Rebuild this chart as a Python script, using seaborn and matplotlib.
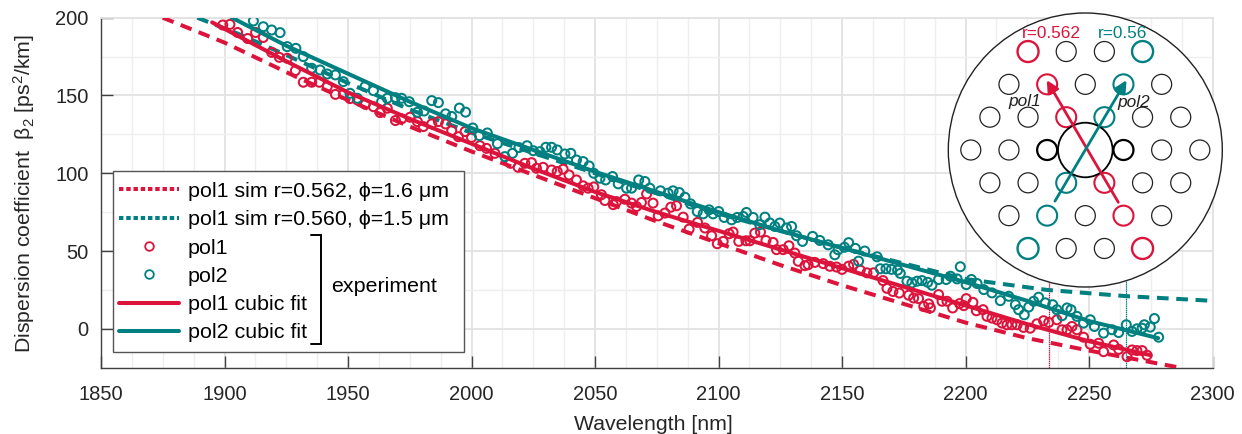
import matplotlib
matplotlib.use("Agg")
import matplotlib.pyplot as plt
from matplotlib.lines import Line2D
from matplotlib.patches import Circle, Rectangle
import seaborn as sns

RED = "#DC143C"
TEAL = "#008080"

# --- data ---
pol1_x = [1899.3,1902.2,1905.3,1909.4,1912.6,1915.7,1919.1,1922.2,1925.4,1928.7,1931.9,1935.3,1938.4,1941.6,1944.9,1948.1,1950.8,1953.8,1957,1960.3,1963,1965.9,1969.2,1971.7,1975.1,1978.1,1980.5,1983.9,1986.6,1989.5,1992,1994.7,1997.4,2000,2003.4,2006.1,2009.5,
2015.8,2018.9,2021.6,2024.3,2026.3,2029,2032.4,2034.7,2037.1,2039.5,2042.5,2045.2,2047.2,2049.5,2052.6,2054,2057.4,2058.7,2062.1,2064.8,2066.8,2068.8,2070.9,2073.5,2075.6,2078.3,2080.7,2083,2085.7,2088.1,2091.5,2094.5,2097.2,2099.5,2101.9,2104.3,2105.9,2108.2,2111.1,2112.7,2114.7,2117,2119.2,2122.1,2123.5,2126.2,2128.5,2130.9,2132.3,2135,2136.3,2139,2142.4,2145.1,2147.8,
2150,2152.7,2154.7,2157.4,2160.1,2162.8,2166.6,2168.2,2170.6,2173.2,2177,2179,2181,2183.1,2185.1,2185.8,2189.1,2190.5,2192.5,2194.8,2197.6,2199.3,2200.3,2203,2204.4,2207.1,2208.7,2210.7,2212.8,2214.8,2216.8,2218.8,2220.9,2223.5,2226.2,2228.9,2231.6,2233.7,2237,2239.1,2241.1,2243.1,2245.1,2247.8,2250.5,2253.9,2255.9,2260,2262,2265.4,2267.4,2269.4,2271.5,2273.5]
pol1_y = [195.3,195.7,190.5,186.6,190.5,187.3,177.7,174.5,173.9,166,158.5,158.5,158.5,155.7,150.7,150.7,148,147.1,144.3,142.8,139,141.8,133.9,135,136,133.2,130,131.7,133.2,131.7,127.4,123.5,126.8,123,117.7,116,112.8,
106.4,103.8,106.4,106.8,103.2,103.8,102.1,101.1,102.6,98.9,95.7,91.9,90.4,91.2,86.2,82.5,79.8,81.8,83.3,80.8,78.6,81.2,86.7,80.8,72.6,74.4,78.2,79.1,71.8,64.1,68.4,64.8,59.8,54.7,56.2,61.1,62.2,56.2,56.6,56.6,61.5,62.2,56.8,55.5,50.9,50.9,53.4,48.7,43.4,40.6,41.2,42.7,41.9,40.2,39.7,
38.2,40.3,41.4,37.7,36,36,31,26,24,23,21.6,19.8,19.4,14.4,16,13.4,22,17.7,17.7,13.4,16.2,14.9,19.4,17,11.6,12.3,8,6.9,5.8,3.7,2.6,2.6,2.6,0.9,0.4,3.2,5.2,4.1,5.8,-0.6,-0.6,1.5,-0.6,-5.4,-9.9,-9.3,-14.7,-10.4,-13.2,-17.9,-13.6,-14,-14,-17]

pol2_x = [1911.7,1915.7,1919.1,1922.5,1925.4,1928.9,1931.9,1935.3,1938.7,1941.6,1944.9,1948.1,1950.8,1953.8,1956.9,1960.3,1963.6,1965.9,1969.2,1971.7,1974.8,1978.1,1980.8,1983.9,1986.6,1989.5,1992,1995.1,1997.6,2000.5,2003.2,2006.4,2010.5,
2013.5,2016.6,2019.2,2022.5,2025,2027.7,2030.1,2032.4,2034.7,2037.8,2040.2,2042.5,2045.2,2047.6,2049.5,2052,2054.3,2057.1,2059.4,2062.8,2064.8,2067.7,2070.2,2072.2,2076.5,2079.6,2081.6,2084.1,2086.4,2088.7,2091.4,2093.8,2096.2,2097.8,2100.1,2102.3,2105.3,2107.6,2110,2111.3,2114,2116.7,2118.8,2120.8,2122.8,2124.8,2127.5,2129.6,2131.6,2134,2138.1,2141,2144.4,2147.1,2148.4,
2151,2152.7,2155.4,2156.7,2159.2,2164.2,2165.5,2167.8,2170,2172.5,2173.6,2176.3,2178.3,2180.4,2182.4,2184.7,2186.4,2189.1,2192.2,2193.9,2196.6,2197.9,2200.3,2202.4,2204.7,2207.4,2210.7,2214.1,2217.5,2220.2,2221.5,2223.8,2225.6,2227.6,2229.6,2232.3,2235.3,2237,2239.1,2241.1,2242.7,2245.1,2247.8,2250.5,2252.2,2255.9,2259.3,2262,2265.1,2267.4,2269.4,2271.5,2272.4,2274.8,2276.5,2278.2]
pol2_y = [197.9,194.2,192.1,190.4,181.4,180.3,175,167.5,166.4,163.8,163.2,158.9,151.4,148.2,155.7,153.1,146,148.2,148.6,148.2,146,139.2,140,146.7,145.4,138.2,136.5,141.9,139.3,129.1,124.2,125.9,119,
110.7,112.8,116.5,117.7,114.5,113.9,116.7,116.7,115,112.4,112.8,108.5,107.5,104.7,100,96.8,95.7,97.9,93.2,90.4,90.4,95.7,94.7,90.4,88.7,87.2,88.7,87.6,84.6,80.3,75.4,73.9,76.5,73.9,75.4,71.6,70.1,71.6,72.2,74.8,71.6,66.9,71.8,68,65.8,68,64.8,65.8,59.8,56.2,59.4,56.8,54,47.6,50.8,
52.4,55.4,51.7,43.5,50,46.3,38.6,38.6,38.2,37.7,35.6,30.6,29.5,30.6,31,29.9,28,31.7,31.7,33.8,32.1,39.9,28.4,31.7,29.1,25.2,23.1,18.1,20.9,15.5,12.3,9,14,17.7,20.3,16.7,15.5,12.3,8.4,13.4,12.3,8,3.7,5.8,1.5,-2.8,-0.6,-2.4,2.6,-1.7,0,0.4,2.6,1.1,6.6,-5.4]

fit1_x = [1895,1925,1950,1975,2000,2025,2050,2075,2100,2125,2150,2175,2200,2225,2250,2275]
fit1_y = [197,172,152,135,119,103,88,75,63,51,39,27,15,3,-8,-17]
fit2_x = [1903,1925,1950,1975,2000,2025,2050,2075,2100,2125,2150,2175,2200,2225,2250,2278]
fit2_y = [200,182,164,146,129,115,101,88,75,63,52,41,30,18,5,-6]
sim1_x = [1875,1900,1929,1950,1975,2000,2025,2050,2075,2100,2125,2150,2175,2200,2225,2250,2287]
sim1_y = [200,184,162,147,130,114,99,84,69,55,41,28,16,4,-6,-14,-25]
sim2_x = [1889,1905,1925,1950,1975,2000,2025,2050,2075,2100,2125,2150,2175,2200,2233,2265,2300]
sim2_y = [200,190,176,158,141,126,113,100,87,74,63,52,42,32,25,21,18]

marker1_x = [2233.7, 2233.7]
marker2_x = [2265, 2265]
marker_y = [-25, 200]

x_ticks = [1850,1900,1950,2000,2050,2100,2150,2200,2250,2300]
y_ticks = [0,50,100,150,200]
legend_labels = ["pol1 sim r=0.562, \u03d5=1.6 \u03bcm", "pol1 sim r=0.560, \u03d5=1.5 \u03bcm",
                 "pol1", "pol2", "pol1 cubic fit", "pol2 cubic fit"]

# inset: fibre cross-section, lattice coordinates (row, offset in pitches)
plain_holes = [(3,-.5),(3,.5),(2,-2),(2,0),(2,2),(1,-2.5),(1,-1.5),(1,1.5),(1,2.5),
               (0,-3),(0,-2),(0,2),(0,3),(-1,-2.5),(-1,-1.5),(-1,1.5),(-1,2.5),
               (-2,-2),(-2,0),(-2,2),(-3,-.5),(-3,.5)]
thick_holes = [(0,-1),(0,1)]
red_holes = [(2,-1),(1,-.5),(-1,.5),(-2,1)]
teal_holes = [(2,1),(1,.5),(-1,-.5),(-2,-1)]
red_big = [(3,-1.5),(-3,1.5)]
teal_big = [(3,1.5),(-3,-1.5)]

# --- style ---
sns.set_theme(style="white")
plt.rcParams["font.family"] = ["Liberation Sans", "DejaVu Sans"]
plt.rcParams["mathtext.fontset"] = "custom"
plt.rcParams["mathtext.rm"] = "Liberation Sans"
plt.rcParams["mathtext.default"] = "regular"

W, H = 1242, 434
fig = plt.figure(figsize=(W/100, H/100), dpi=100)
L, R, T, B = 101, 1212.5, 17.7, 367.7
ax = fig.add_axes([L/W, (H-B)/H, (R-L)/W, (B-T)/H])

def fx(px): return (px-L)/(R-L)
def fy(py): return (B-py)/(B-T)

for xs, ys, c in [(sim1_x, sim1_y, RED), (sim2_x, sim2_y, TEAL)]:
    sns.lineplot(x=xs, y=ys, color=c, lw=2.9, ax=ax, estimator=None, sort=False,
                 linestyle=(0, (2.9, 1.9)), zorder=3)
for xs in (marker1_x, marker2_x):
    sns.lineplot(x=xs, y=marker_y, color=RED if xs is marker1_x else TEAL, lw=0.9, ax=ax,
                 estimator=None, sort=False, linestyle=(0, (1.2, 0.5)), zorder=2)
for xs, ys, c in [(pol1_x, pol1_y, RED), (pol2_x, pol2_y, TEAL)]:
    sns.scatterplot(x=xs, y=ys, marker="o", s=42, facecolors="none", edgecolor=c,
                    linewidth=1.45, ax=ax, zorder=4)
for xs, ys, c in [(fit1_x, fit1_y, RED), (fit2_x, fit2_y, TEAL)]:
    sns.lineplot(x=xs, y=ys, color=c, lw=2.9, ax=ax, estimator=None, sort=False, zorder=5)

ax.set_xlim(1850, 2300)
ax.set_ylim(-25, 200)
ax.set_xticks(x_ticks)
ax.set_yticks(y_ticks)
ax.set_xticks([v + 12.5*k for v in x_ticks[:-1] for k in (1, 2, 3)], minor=True)
ax.set_yticks([-25, 25, 75, 125, 175], minor=True)
ax.grid(True, which="major", color="#e2e2e2", lw=1.3)
ax.grid(True, which="minor", color="#efefef", lw=1.0)
ax.set_axisbelow(True)
ax.tick_params(which="major", direction="in", length=8.6, width=1.0, color="#404040",
               labelcolor="#262626", labelsize=14.5, left=True, bottom=True)
ax.tick_params(axis="x", which="major", pad=12.5)
ax.tick_params(axis="y", which="major", pad=9)
ax.tick_params(which="minor", length=0)
for s in ("top", "right"):
    ax.spines[s].set_color("#e2e2e2")
    ax.spines[s].set_linewidth(1.3)
for s in ("left", "bottom"):
    ax.spines[s].set_color("#404040")
    ax.spines[s].set_linewidth(1.0)
ax.set_xlabel("Wavelength [nm]", fontsize=15.3, color="#262626")
ax.xaxis.set_label_coords(fx(653.5), fy(424.5), transform=ax.transAxes)
ax.xaxis.label.set_va("center")
ax.set_ylabel("Dispersion coefficient  \u03b2$_2$ [ps$^2$/km]", fontsize=15.3, color="#262626")
ax.yaxis.set_label_coords(fx(24), fy(193.5), transform=ax.transAxes)
ax.yaxis.label.set_va("center")

# legend
ax.add_patch(Rectangle((fx(112.7), fy(351.7)), fx(464.3)-fx(112.7), fy(170.7)-fy(351.7),
                       transform=ax.transAxes, fc="white", ec="#555555", lw=1.0, zorder=6))
handles = [
    Line2D([], [], color=RED, lw=2.9, linestyle=(0, (1.1, 0.7))),
    Line2D([], [], color=TEAL, lw=2.9, linestyle=(0, (1.1, 0.7))),
    Line2D([], [], color=RED, lw=0, marker="o", mfc="none", mec=RED, mew=1.3, ms=6.2),
    Line2D([], [], color=TEAL, lw=0, marker="o", mfc="none", mec=TEAL, mew=1.3, ms=6.2),
    Line2D([], [], color=RED, lw=2.9),
    Line2D([], [], color=TEAL, lw=2.9),
]
leg = ax.legend(handles, legend_labels, loc="upper left", bbox_to_anchor=(fx(113), fy(175.5)),
                frameon=False, fontsize=15.4, handlelength=2.8, handletextpad=0.4,
                labelspacing=0.435, borderpad=0.3, borderaxespad=0, labelcolor="black")
leg.set_zorder(7)
ax.plot([fx(311), fx(321), fx(321), fx(311)], [fy(235), fy(235), fy(344), fy(344)],
        transform=ax.transAxes, color="black", lw=1.4, zorder=7, solid_joinstyle="miter")
ax.text(fx(331), fy(287), "experiment", transform=ax.transAxes, fontsize=15.4, color="black",
        va="center", ha="left", zorder=7)

# inset
cx, cy, half, pitch, row_step = 1085.3, 150, 142, 38.17, 0.86
iax = fig.add_axes([(cx-half)/W, (H-cy-half)/H, 2*half/W, 2*half/H], zorder=10)
iax.set_xlim(-half/pitch, half/pitch)
iax.set_ylim(-half/pitch, half/pitch)
iax.axis("off")
iax.patch.set_alpha(0)
iax.add_patch(Circle((0, 0), 137/pitch, fc="white", ec="#222222", lw=1.0))
def holes(lst, color, rad, lw):
    for r, o in lst:
        iax.add_patch(Circle((o, r*row_step), rad/pitch, fc="none", ec=color, lw=lw))
holes(plain_holes, "#222222", 10, 0.9)
holes(thick_holes, "black", 10, 1.6)
holes(red_holes, RED, 10, 1.5)
holes(teal_holes, TEAL, 10, 1.5)
holes(red_big, RED, 10.5, 1.7)
holes(teal_big, TEAL, 10.5, 1.7)
iax.add_patch(Circle((0, 0), 27.3/pitch, fc="none", ec="black", lw=1.3))
iax.annotate("", xy=(-1.01, 1.83), xytext=(0.865, -1.37),
             arrowprops=dict(arrowstyle="-|>", color=RED, lw=2, mutation_scale=18, shrinkA=0, shrinkB=0))
iax.annotate("", xy=(1.08, 1.83), xytext=(-0.795, -1.34),
             arrowprops=dict(arrowstyle="-|>", color=TEAL, lw=2, mutation_scale=18, shrinkA=0, shrinkB=0))
iax.text(-0.88, 3.06, "r=0.562", color=RED, fontsize=12.4, ha="center", va="center")
iax.text(0.97, 3.06, "r=0.56", color=TEAL, fontsize=12.4, ha="center", va="center")
iax.text(-1.59, 1.28, "pol1", color="#222222", style="italic", fontsize=12.4, ha="center", va="center")
iax.text(1.26, 1.25, "pol2", color="#222222", style="italic", fontsize=12.4, ha="center", va="center")

fig.savefig("out.png", dpi=100)
